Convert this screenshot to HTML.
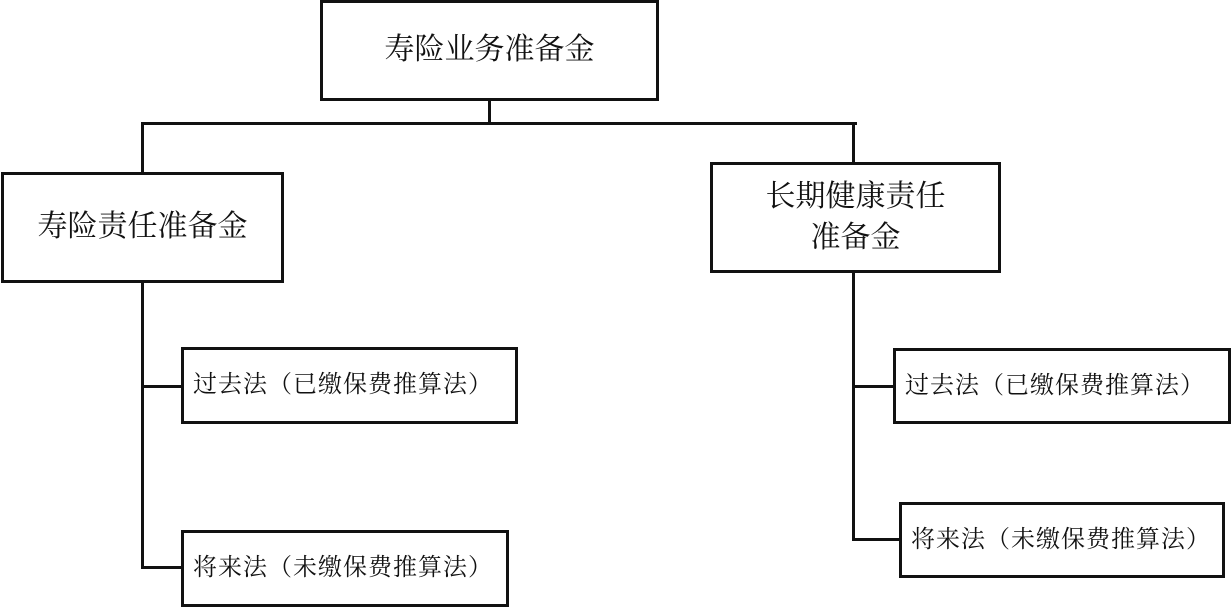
<!DOCTYPE html>
<html><head><meta charset="utf-8"><style>
html,body{margin:0;padding:0;background:#fff;}
body{width:1232px;height:607px;position:relative;overflow:hidden;font-family:"Liberation Serif","Noto Serif CJK SC","Noto Sans CJK SC",serif;color:#111;}
.b{position:absolute;box-sizing:border-box;border:3px solid #111;background:#fff;display:flex;align-items:center;justify-content:center;text-align:center;line-height:1.35;}
.l{position:absolute;background:#111;}
.big{font-size:30px;}
.sm{font-size:24px;letter-spacing:1px;justify-content:flex-start;padding-left:9px;}
</style></head><body>
<div class="l" style="left:141px;top:122px;width:716px;height:3px"></div>
<div class="l" style="left:488px;top:98px;width:3px;height:26px"></div>
<div class="l" style="left:141px;top:122px;width:3px;height:52px"></div>
<div class="l" style="left:852px;top:122px;width:3px;height:42px"></div>
<div class="l" style="left:141px;top:280px;width:3px;height:289px"></div>
<div class="l" style="left:141px;top:385px;width:42px;height:3px"></div>
<div class="l" style="left:141px;top:566px;width:42px;height:3px"></div>
<div class="l" style="left:852px;top:270px;width:3px;height:271px"></div>
<div class="l" style="left:852px;top:385px;width:43px;height:3px"></div>
<div class="l" style="left:852px;top:538px;width:48px;height:3px"></div>

<div class="b big" style="left:320px;top:0;width:339px;height:101px">寿险业务准备金</div>
<div class="b big" style="left:1px;top:172px;width:283px;height:111px">寿险责任准备金</div>
<div class="b big" style="left:710px;top:162px;width:291px;height:111px">长期健康责任<br>准备金</div>
<div class="b sm" style="left:181px;top:347px;width:337px;height:77px">过去法（已缴保费推算法）</div>
<div class="b sm" style="left:181px;top:530px;width:328px;height:77px">将来法（未缴保费推算法）</div>
<div class="b sm" style="left:893px;top:348px;width:338px;height:76px">过去法（已缴保费推算法）</div>
<div class="b sm" style="left:899px;top:502px;width:326px;height:76px">将来法（未缴保费推算法）</div>
</body></html>
